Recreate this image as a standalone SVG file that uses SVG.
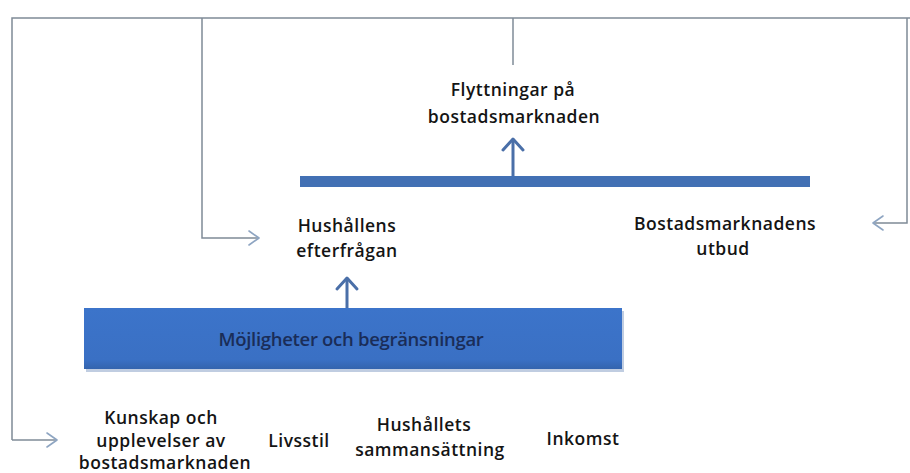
<svg xmlns="http://www.w3.org/2000/svg" width="910" height="473" viewBox="0 0 910 473">
<defs>
<style>
.conn{fill:none;stroke:#7f8b97;stroke-width:1.5}
.head{fill:none;stroke:#8ea5c2;stroke-width:1.6;stroke-linecap:round;stroke-linejoin:round}
.blue{fill:none;stroke:#4a6fa8;stroke-width:3}
.bhead{fill:none;stroke:#4a6fa8;stroke-width:3;stroke-linecap:round;stroke-linejoin:round}
.lbl{font-family:"Open Sans","Liberation Sans",sans-serif;font-weight:600;font-size:17.5px;fill:#141414;text-anchor:middle;letter-spacing:0.5px}
.boxlbl{font-family:"Open Sans","Liberation Sans",sans-serif;font-weight:600;font-size:18.5px;fill:#1a2d58;text-anchor:middle;letter-spacing:-0.3px}
</style>
<linearGradient id="boxShade" x1="0" y1="0" x2="0" y2="1">
<stop offset="0" stop-color="#3c74ca"/>
<stop offset="0.85" stop-color="#3a70c4"/>
<stop offset="1" stop-color="#3464ad"/>
</linearGradient>
</defs>
<rect width="910" height="473" fill="#ffffff"/>
<g id="connectors">
<path class="conn" d="M12,440 V18 H910"/>
<path class="conn" d="M12,440 H56"/>
<path class="head" d="M47,433 L57,440 L47,447"/>
<path class="conn" d="M202,18 V238 H258"/>
<path class="head" d="M249,231 L259,238 L249,245"/>
<path class="conn" d="M513,18 V65"/>
<path class="conn" d="M907,18 V223 H874"/>
<path class="head" d="M883,216 L873,223 L883,230"/>
<path class="blue" d="M513,176 V139"/>
<path class="bhead" d="M503,150 L513,139 L523,150"/>
<path class="blue" d="M347,308 V278"/>
<path class="bhead" d="M337,289 L347,278 L357,289"/>
</g>
<g id="bar">
<rect x="300" y="176" width="510" height="11" fill="#4270b4"/>
</g>
<g id="flyttningar">
<text class="lbl" x="513" y="96">Flyttningar på</text>
<text class="lbl" x="514" y="123">bostadsmarknaden</text>
</g>
<g id="hushallens">
<text class="lbl" x="347" y="232">Hushållens</text>
<text class="lbl" x="347" y="257">efterfrågan</text>
</g>
<g id="utbud">
<text class="lbl" x="725" y="230">Bostadsmarknadens</text>
<text class="lbl" x="723" y="255">utbud</text>
</g>
<g id="mojligheter">
<rect x="86" y="311" width="538" height="61" fill="#2f5a9a" opacity="0.3"/>
<rect x="84" y="308" width="538" height="61" fill="url(#boxShade)"/>
<text class="boxlbl" x="351" y="346">Möjligheter och begränsningar</text>
</g>
<g id="kunskap">
<text class="lbl" x="161" y="424">Kunskap och</text>
<text class="lbl" x="161" y="447">upplevelser av</text>
<text class="lbl" x="165" y="469">bostadsmarknaden</text>
</g>
<g id="livsstil">
<text class="lbl" x="299" y="447">Livsstil</text>
</g>
<g id="hushallets">
<text class="lbl" x="424" y="431">Hushållets</text>
<text class="lbl" x="430" y="456">sammansättning</text>
</g>
<g id="inkomst">
<text class="lbl" x="583" y="445">Inkomst</text>
</g>
</svg>
